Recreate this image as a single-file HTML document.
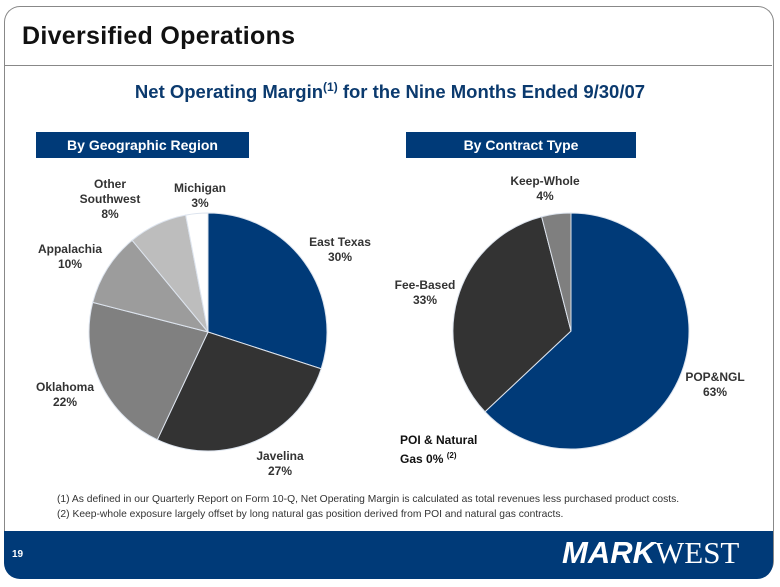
<!DOCTYPE html>
<html><head><meta charset="utf-8"><style>
body{margin:0;width:780px;height:587px;background:#fff;overflow:hidden;font-family:"Liberation Sans",Arial,sans-serif;position:relative}
.abs{position:absolute}
.frame{left:4px;top:6px;width:768px;height:570px;border:1px solid #888;border-radius:16px;border-bottom:none}
.hdr{background:#003a78;color:#fff;font-weight:bold;font-size:14px;text-align:center;line-height:26px;height:26px}
.lbl{font-weight:bold;font-size:12px;color:#333;text-align:center;line-height:15px}
</style></head><body>
<div class="abs frame"></div>
<div class="abs" style="left:22px;top:22px;font-size:25px;font-weight:bold;color:#111;letter-spacing:0.3px">Diversified Operations</div>
<div class="abs" style="left:5px;top:65px;width:767px;height:1px;background:#888"></div>
<div class="abs" style="left:0;width:780px;top:80px;text-align:center;font-size:18.5px;font-weight:bold;color:#0b3a6e">Net Operating Margin<sup style="font-size:12px">(1)</sup> for the Nine Months Ended 9/30/07</div>
<div class="abs hdr" style="left:36px;top:132px;width:213px">By Geographic Region</div>
<div class="abs hdr" style="left:406px;top:132px;width:230px">By Contract Type</div>
<svg class="abs" style="left:0;top:0" width="780" height="587" id="svg"></svg>
<div class="abs lbl" style="left:70px;top:177px;width:80px">Other<br>Southwest<br>8%</div>
<div class="abs lbl" style="left:165px;top:181px;width:70px">Michigan<br>3%</div>
<div class="abs lbl" style="left:300px;top:235px;width:80px">East Texas<br>30%</div>
<div class="abs lbl" style="left:30px;top:242px;width:80px">Appalachia<br>10%</div>
<div class="abs lbl" style="left:30px;top:380px;width:70px">Oklahoma<br>22%</div>
<div class="abs lbl" style="left:245px;top:449px;width:70px">Javelina<br>27%</div>
<div class="abs lbl" style="left:500px;top:174px;width:90px">Keep-Whole<br>4%</div>
<div class="abs lbl" style="left:380px;top:278px;width:90px">Fee-Based<br>33%</div>
<div class="abs lbl" style="left:675px;top:370px;width:80px">POP&amp;NGL<br>63%</div>
<div class="abs lbl" style="left:400px;top:433px;width:100px;text-align:left;color:#111">POI &amp; Natural<br>Gas 0% <sup style="font-size:8px">(2)</sup></div>
<div class="abs" style="left:57px;top:492px;font-size:10.3px;color:#333;line-height:15px;white-space:nowrap">(1) As defined in our Quarterly Report on Form 10-Q, Net Operating Margin is calculated as total revenues less purchased product costs.<br>(2) Keep-whole exposure largely offset by long natural gas position derived from POI and natural gas contracts.</div>
<div class="abs" style="left:4px;top:531px;width:769px;height:48px;background:#003a78;border-radius:0 0 16px 16px"></div>
<div class="abs" style="left:12px;top:549px;font-size:10px;font-weight:bold;color:#fff">19</div>
<div class="abs" style="left:562px;top:535px;color:#fff;font-size:31px;white-space:nowrap"><span style="font-weight:bold;font-style:italic;font-family:'Liberation Sans',sans-serif">MARK</span><span style="font-family:'Liberation Serif',serif">WEST</span></div>
<script>
const geoCategories=["East Texas","Javelina","Oklahoma","Appalachia","Other Southwest","Michigan"];
const geoValues=[30,27,22,10,8,3];
const geoColors=["#003a78","#333333","#808080","#9c9c9c","#bdbdbd","#ffffff"];
const contractCategories=["POP&NGL","POI & Natural Gas","Fee-Based","Keep-Whole"];
const contractValues=[63,0,33,4];
const contractColors=["#003a78","#555555","#333333","#7f7f7f"];
const svg=document.getElementById('svg');
function pie(cx,cy,r,vals,cols,names,key){
  const total=vals.reduce((a,b)=>a+b,0);let a0=0;
  vals.forEach((v,i)=>{
    if(v<=0)return;
    const a1=a0+v/total*2*Math.PI;
    const x0=cx+r*Math.sin(a0),y0=cy-r*Math.cos(a0),x1=cx+r*Math.sin(a1),y1=cy-r*Math.cos(a1);
    const p=document.createElementNS('http://www.w3.org/2000/svg','path');
    p.setAttribute('d',`M${cx},${cy}L${x0},${y0}A${r},${r} 0 ${a1-a0>Math.PI?1:0} 1 ${x1},${y1}Z`);
    p.setAttribute('fill',cols[i]);p.setAttribute('stroke','#dde4ee');p.setAttribute('stroke-width','1');
    
    
    p.setAttribute('data-category',key+'-'+names[i]);
    svg.appendChild(p);a0=a1;
  });
}
pie(208,332,119,geoValues,geoColors,geoCategories,'geo');
pie(571,331,118,contractValues,contractColors,contractCategories,'contract');
</script>
</body></html>
